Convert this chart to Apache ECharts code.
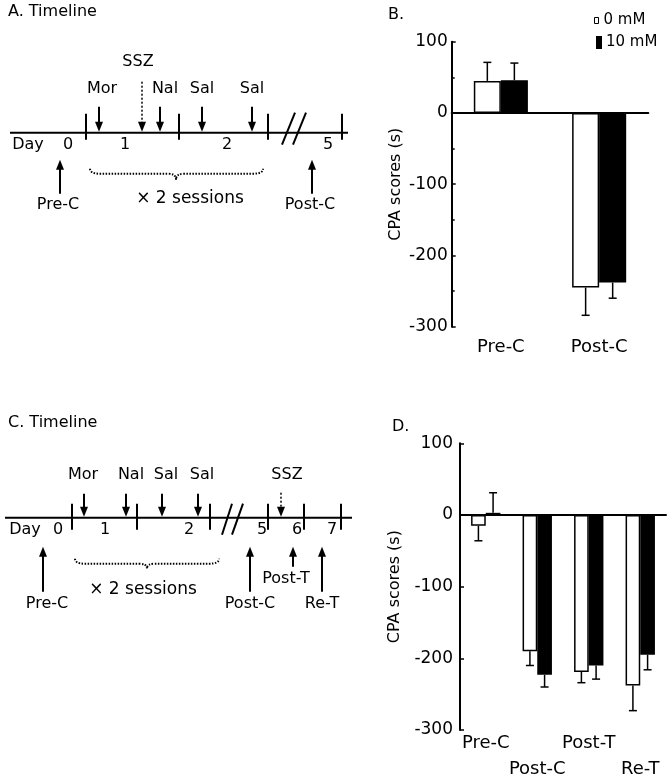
<!DOCTYPE html>
<html>
<head>
<meta charset="utf-8">
<script src="https://cdn.jsdelivr.net/npm/echarts@6/dist/echarts.min.js"></script>
<style>
  html, body { margin: 0; padding: 0; background: #fff; }
  #chart { width: 672px; height: 778px; }
</style>
</head>
<body>
<div id="chart"></div>
<script>
// ---- data ----
const seriesNames = ['0 mM', '10 mM'];

// panel B: CPA scores, mean and one-sided error
const groupsB = ['Pre-C', 'Post-C'];
const meanB0 = [45, -245];
const errB0 = [26, 39];
const meanB10 = [46, -238];
const errB10 = [24, 22];

// panel D
const groupsD = ['Pre-C', 'Post-C', 'Post-T', 'Re-T'];
const meanD0 = [-15, -190, -219, -238];
const errD0 = [21, 20, 15, 35];
const meanD10 = [3, -223, -210, -195];
const errD10 = [28, 17, 19, 21];

// timeline texts
const daysA = ['Day', '0', '1', '2', '5'];
const drugsA = ['Mor', 'Nal', 'Sal', 'Sal'];
const testsA = ['Pre-C', 'Post-C'];
const daysC = ['Day', '0', '1', '2', '5', '6', '7'];
const drugsC = ['Mor', 'Nal', 'Sal', 'Sal'];
const testsC = ['Pre-C', 'Post-C', 'Post-T', 'Re-T'];

// ---- layout of the two schematic timelines (units along the line, up = +) ----
const layoutA = {
  from: 10, to: 348, ticks: [86, 179, 268, 342], tickUp: 19, tickDown: 7,
  slashes: [[282, -12, 295, 20], [293, -12, 306, 20]],
  dayX: [28, 68, 125, 227, 328], dayY: -12,
  drugX: [99, 160, 202, 252], drugLabelX: [102, 165, 202, 252], drugTop: 26, drugLabelY: 44,
  ssz: { x: 142, top: 51, labelX: 138, labelY: 71 },
  testX: [60, 312], testTip: -27, testBottom: [-61, -61],
  testLabelX: [58, 310], testLabelY: [-72, -72],
  brace: { x0: 90, x1: 263, xc: 176, yEnd: -36, yMid: -41, yTip: -47 },
  sessions: { x: 190, y: -66 }
};
const layoutC = {
  from: 5, to: 352, ticks: [72, 137, 210, 268, 304, 341], tickUp: 14, tickDown: 12,
  slashes: [[222, -17, 232, 14], [232, -17, 243, 14]],
  dayX: [25, 58, 105, 189, 262, 297, 332], dayY: -12,
  drugX: [84, 126, 162, 198], drugLabelX: [83, 131, 166, 202], drugTop: 24, drugLabelY: 43,
  ssz: { x: 281, top: 25, labelX: 287, labelY: 43 },
  testX: [43, 250, 293, 322], testTip: -29, testBottom: [-74, -74, -49, -74],
  testLabelX: [47, 250, 286, 322], testLabelY: [-86, -86, -61, -86],
  brace: { x0: 75, x1: 219, xc: 147, yEnd: -41, yMid: -46, yTip: -51 },
  sessions: { x: 143, y: -72 }
};

const INK = '#000';
const FONT = 'DejaVu Sans';

function timelineRender(L, days, drugs, tests) {
  return function (params, api) {
    const P = (x, y) => api.coord([x, y]);
    const kids = [];
    const stroke = (a, b, w, dash) => kids.push({
      type: 'line', shape: { x1: a[0], y1: a[1], x2: b[0], y2: b[1] },
      style: { stroke: INK, lineWidth: w || 2, lineDash: dash || null }
    });
    const text = (s, p, size) => kids.push({
      type: 'text',
      style: { text: s, x: p[0], y: p[1], font: (size || 16) + 'px "' + FONT + '"', fill: INK, align: 'center', verticalAlign: 'middle' }
    });
    // dir 1: points down, -1: points up
    const arrow = (top, tip, dir, dash) => {
      stroke(top, [tip[0], tip[1] - dir * 9], dash ? 1.5 : 2, dash);
      kids.push({
        type: 'polygon',
        shape: { points: [[tip[0], tip[1]], [tip[0] - 4, tip[1] - dir * 10], [tip[0] + 4, tip[1] - dir * 10]] },
        style: { fill: INK }
      });
    };

    stroke(P(L.from, 0), P(L.to, 0));
    L.ticks.forEach(x => stroke(P(x, L.tickUp), P(x, -L.tickDown)));
    L.slashes.forEach(s => stroke(P(s[0], s[1]), P(s[2], s[3])));
    days.forEach((d, i) => text(d, P(L.dayX[i], L.dayY)));

    drugs.forEach((d, i) => {
      arrow(P(L.drugX[i], L.drugTop), P(L.drugX[i], 1), 1);
      text(d, P(L.drugLabelX[i], L.drugLabelY));
    });
    arrow(P(L.ssz.x, L.ssz.top), P(L.ssz.x, 1), 1, [2, 2]);
    text('SSZ', P(L.ssz.labelX, L.ssz.labelY));

    tests.forEach((t, i) => {
      arrow(P(L.testX[i], L.testBottom[i]), P(L.testX[i], L.testTip), -1);
      text(t, P(L.testLabelX[i], L.testLabelY[i]));
    });

    const b = L.brace;
    const e0 = P(b.x0, b.yEnd), m0 = P(b.x0, b.yMid), c = P(b.xc, b.yMid), t = P(b.xc, b.yTip);
    const m1 = P(b.x1, b.yMid), e1 = P(b.x1, b.yEnd);
    const d = 'M' + e0[0] + ',' + e0[1] +
      ' Q' + m0[0] + ',' + m0[1] + ' ' + (m0[0] + 10) + ',' + m0[1] +
      ' L' + (c[0] - 8) + ',' + c[1] +
      ' Q' + c[0] + ',' + c[1] + ' ' + t[0] + ',' + t[1] +
      ' Q' + c[0] + ',' + c[1] + ' ' + (c[0] + 8) + ',' + c[1] +
      ' L' + (m1[0] - 10) + ',' + m1[1] +
      ' Q' + m1[0] + ',' + m1[1] + ' ' + e1[0] + ',' + e1[1];
    kids.push({ type: 'path', shape: { pathData: d }, style: { stroke: INK, fill: null, lineWidth: 2, lineDash: [1.5, 1.5] } });
    text('\u00d7 2 sessions', P(L.sessions.x, L.sessions.y), 17);

    return { type: 'group', children: kids };
  };
}

function errRender(gap, side) {
  return function (params, api) {
    const cat = api.value(0), v = api.value(1), e = api.value(2);
    const band = api.size([1, 0])[0];
    const bw = band * (1 - gap) / 2;
    const base = api.coord([cat, v]);
    const tip = api.coord([cat, v + (v >= 0 ? e : -e)]);
    const x = base[0] + side * bw / 2;
    return {
      type: 'group', children: [
        { type: 'line', shape: { x1: x, y1: base[1], x2: x, y2: tip[1] }, style: { stroke: INK, lineWidth: 1.5 } },
        { type: 'line', shape: { x1: x - 4, y1: tip[1], x2: x + 4, y2: tip[1] }, style: { stroke: INK, lineWidth: 1.5 } }
      ]
    };
  };
}

const toErr = (mean, err) => mean.map((m, i) => [i, m, err[i]]);

const hiddenX = g => ({ gridIndex: g, type: 'value', min: 0, max: 360, show: false });
const hiddenY = g => ({ gridIndex: g, type: 'value', min: -100, max: 100, show: false });

const zeroAxis = (g, data) => ({
  gridIndex: g, type: 'category', data: data, position: 'bottom',
  axisLine: { onZero: true, lineStyle: { color: INK, width: 2 } },
  axisTick: { inside: true, length: 4, lineStyle: { color: INK, width: 1.5 } },
  axisLabel: { show: false }
});
const labelAxis = (g, data, extra) => ({
  gridIndex: g, type: 'category', data: data, position: 'bottom',
  axisLine: { show: false, onZero: false }, axisTick: { show: false },
  axisLabel: Object.assign({ interval: 0, color: INK, fontSize: 18, fontFamily: FONT }, extra)
});
const valueAxis = (g, gap, margin, minor) => ({
  gridIndex: g, type: 'value', min: -300, max: 100, interval: 100,
  axisLine: { show: true, lineStyle: { color: INK, width: 2 } },
  axisTick: { show: true, inside: true, length: 4, lineStyle: { color: INK, width: 1.5 } },
  minorTick: { show: minor, splitNumber: 2, length: 3, lineStyle: { color: INK, width: 1.5 } },
  splitLine: { show: false },
  axisLabel: { color: INK, fontSize: 17, fontFamily: FONT, margin: margin },
  name: 'CPA scores (s)', nameLocation: 'middle', nameGap: gap,
  nameTextStyle: { color: INK, fontSize: 16, fontFamily: FONT }
});

const chart = echarts.init(document.getElementById('chart'));
chart.setOption({
  animation: false,
  backgroundColor: '#fff',
  textStyle: { fontFamily: FONT },
  grid: [
    { left: 0, top: 32.7, width: 360, height: 200, outerBoundsMode: 'none' },
    { left: 0, top: 417.7, width: 360, height: 200, outerBoundsMode: 'none' },
    { left: 451.7, top: 41.7, width: 196.6, height: 285, outerBoundsMode: 'none' },
    { left: 460, top: 443.3, width: 206, height: 286.7, outerBoundsMode: 'none' }
  ],
  xAxis: [
    hiddenX(0), hiddenX(1),
    zeroAxis(2, groupsB), labelAxis(2, groupsB, { margin: 12 }),
    zeroAxis(3, groupsD),
    labelAxis(3, groupsD, { margin: 0, lineHeight: 26, formatter: (v, i) => (i % 2 ? '\n' + v : v) })
  ],
  yAxis: [hiddenY(0), hiddenY(1), valueAxis(2, 48, 4, true), valueAxis(3, 57, 7, false)],
  legend: [
    {
      left: 594, top: 13, padding: 0, itemWidth: 4, itemHeight: 6, selectedMode: false,
      data: [{ name: seriesNames[0], icon: 'rect', itemStyle: { color: '#fff', borderColor: INK, borderWidth: 1 } }],
      textStyle: { color: INK, fontSize: 15, fontFamily: FONT }
    },
    {
      left: 596, top: 35, padding: 0, itemWidth: 4, itemHeight: 11, selectedMode: false,
      data: [{ name: seriesNames[1], icon: 'rect', itemStyle: { color: INK } }],
      textStyle: { color: INK, fontSize: 15, fontFamily: FONT }
    }
  ],
  graphic: [
    { type: 'text', left: 8, top: 4, style: { text: 'A. Timeline', font: '16px "' + FONT + '"', fill: INK } },
    { type: 'text', left: 388, top: 7, style: { text: 'B.', font: '16px "' + FONT + '"', fill: INK } },
    { type: 'text', left: 8, top: 415, style: { text: 'C. Timeline', font: '16px "' + FONT + '"', fill: INK } },
    { type: 'text', left: 392, top: 419, style: { text: 'D.', font: '16px "' + FONT + '"', fill: INK } }
  ],
  series: [
    { type: 'custom', xAxisIndex: 0, yAxisIndex: 0, data: [[0, 0]], silent: true,
      renderItem: timelineRender(layoutA, daysA, drugsA, testsA) },
    { type: 'custom', xAxisIndex: 1, yAxisIndex: 1, data: [[0, 0]], silent: true,
      renderItem: timelineRender(layoutC, daysC, drugsC, testsC) },

    { type: 'bar', name: seriesNames[0], xAxisIndex: 2, yAxisIndex: 2, data: meanB0,
      barGap: '0%', barCategoryGap: '45%', silent: true,
      itemStyle: { color: '#fff', borderColor: INK, borderWidth: 1.5 } },
    { type: 'bar', name: seriesNames[1], xAxisIndex: 2, yAxisIndex: 2, data: meanB10,
      barGap: '0%', barCategoryGap: '45%', silent: true,
      itemStyle: { color: INK, borderColor: INK, borderWidth: 1.5 } },
    { type: 'custom', xAxisIndex: 2, yAxisIndex: 2, data: toErr(meanB0, errB0), encode: { x: 0, y: 1 },
      silent: true, z: 5, renderItem: errRender(0.45, -1) },
    { type: 'custom', xAxisIndex: 2, yAxisIndex: 2, data: toErr(meanB10, errB10), encode: { x: 0, y: 1 },
      silent: true, z: 5, renderItem: errRender(0.45, 1) },

    { type: 'bar', name: seriesNames[0], xAxisIndex: 4, yAxisIndex: 3, data: meanD0,
      barGap: '0%', barCategoryGap: '43%', silent: true,
      itemStyle: { color: '#fff', borderColor: INK, borderWidth: 1.5 } },
    { type: 'bar', name: seriesNames[1], xAxisIndex: 4, yAxisIndex: 3, data: meanD10,
      barGap: '0%', barCategoryGap: '43%', silent: true,
      itemStyle: { color: INK, borderColor: INK, borderWidth: 1.5 } },
    { type: 'custom', xAxisIndex: 4, yAxisIndex: 3, data: toErr(meanD0, errD0), encode: { x: 0, y: 1 },
      silent: true, z: 5, renderItem: errRender(0.43, -1) },
    { type: 'custom', xAxisIndex: 4, yAxisIndex: 3, data: toErr(meanD10, errD10), encode: { x: 0, y: 1 },
      silent: true, z: 5, renderItem: errRender(0.43, 1) }
  ]
});
</script>
</body>
</html>
